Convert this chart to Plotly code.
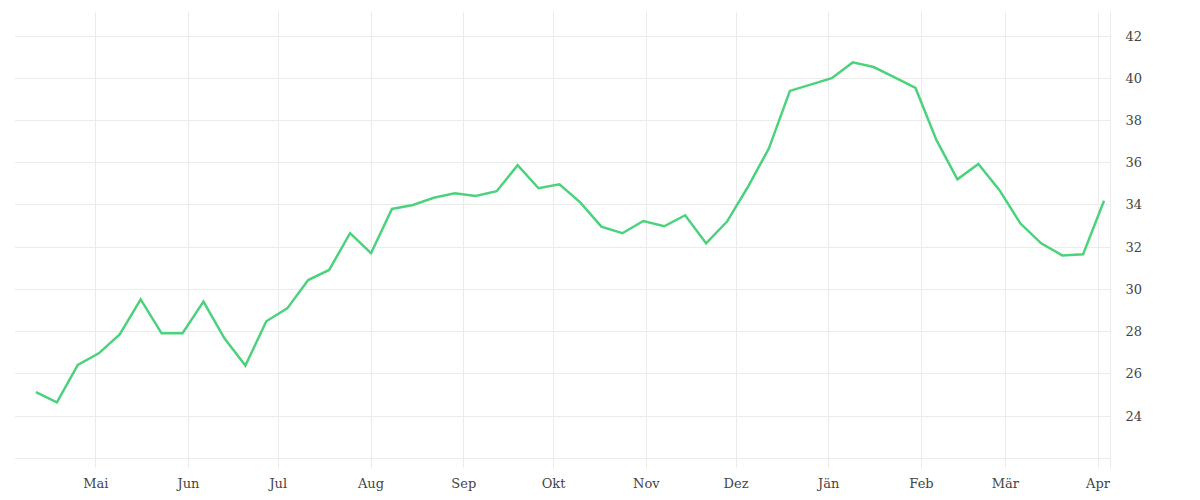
import pandas as pd
import plotly.graph_objects as go

start_date = "2022-04-11"
n_weeks = 52
values = [25.13, 24.65, 26.42, 26.97, 27.87, 29.53, 27.92, 27.92, 29.42, 27.68,
          26.39, 28.49, 29.10, 30.44, 30.92, 32.66, 31.71, 33.81, 34.00, 34.34,
          34.55, 34.42, 34.65, 35.88, 34.79, 34.98, 34.11, 32.97, 32.66, 33.24,
          32.99, 33.51, 32.18, 33.21, 34.86, 36.68, 39.40, 39.71, 40.00, 40.75,
          40.53, 40.04, 39.54, 37.07, 35.21, 35.94, 34.71, 33.13, 32.18, 31.61,
          31.66, 34.20]
dates = pd.date_range(start_date, periods=n_weeks, freq="7D")

month_ticks = ["2022-05-01", "2022-06-01", "2022-07-01", "2022-08-01", "2022-09-01",
               "2022-10-01", "2022-11-01", "2022-12-01", "2023-01-01", "2023-02-01",
               "2023-03-01", "2023-04-01"]
month_labels = ["Mai", "Jun", "Jul", "Aug", "Sep", "Okt", "Nov", "Dez", "Jän", "Feb", "Mär", "Apr"]
y_ticks = [22, 24, 26, 28, 30, 32, 34, 36, 38, 40, 42]
y_labels = ["", "24", "26", "28", "30", "32", "34", "36", "38", "40", "42"]

grid = "#ebebeb"
font = dict(family="DejaVu Serif", size=13, color="#444444")

fig = go.Figure()
fig.add_trace(go.Scatter(x=dates, y=values, mode="lines",
                         line=dict(color="#4CD27C", width=2.5),
                         hoverinfo="x+y", showlegend=False))

fig.update_layout(
    width=1200, height=500,
    margin=dict(l=7, r=98, t=4, b=40),
    paper_bgcolor="white", plot_bgcolor="white",
    font=font,
    xaxis=dict(range=["2022-04-04", "2023-04-05"], tickvals=month_ticks, ticktext=month_labels,
               showgrid=True, gridcolor=grid, gridwidth=1, zeroline=False, showline=False,
               ticks="", ticklabelstandoff=6, tickfont=font),
    yaxis=dict(side="right", range=[21.54, 43.137], tickvals=y_ticks, ticktext=y_labels,
               showgrid=True, gridcolor=grid, gridwidth=1, zeroline=False,
               showline=True, linecolor=grid, linewidth=1,
               ticks="", ticklabelstandoff=12, tickfont=font),
)

fig.write_html("out.html")
